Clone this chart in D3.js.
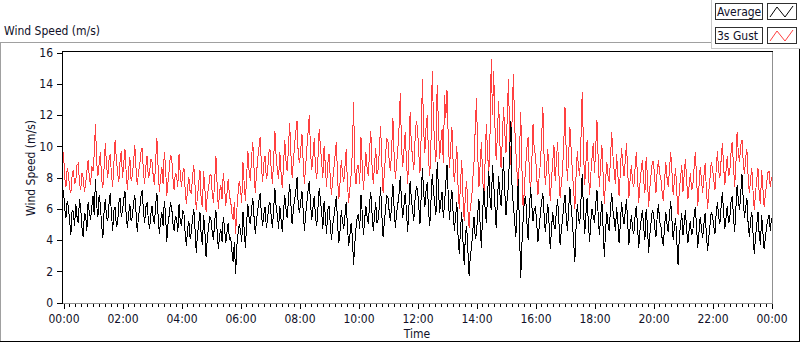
<!DOCTYPE html>
<html>
<head>
<meta charset="utf-8">
<script src="https://cdn.jsdelivr.net/npm/d3@7"></script>
<style>
  body { margin: 0; background: #fff; }
  svg text { font-family: "DejaVu Sans Condensed", "Liberation Sans", sans-serif; font-size: 12px; fill: #101028; }
</style>
</head>
<body>
<div id="main_plot"></div>
<script>
// samples every 150 s (2.5 min) starting at 00:00, one row per hour
startTime = new Date(2020, 0, 1, 0, 0);
stepSeconds = 150;

average = [
  7.2, 6.0, 5.4, 6.5, 6.1, 5.2, 4.3, 5.9, 5.8, 4.9, 6.3, 5.5, 5.1, 6.6, 6.0, 4.8, 4.2, 5.7, 5.6, 4.6, 6.4, 5.8, 5.3, 6.1,
  6.8, 5.6, 7.9, 6.2, 5.5, 6.9, 6.2, 5.0, 4.1, 5.8, 6.6, 5.4, 5.2, 6.3, 7.0, 5.7, 4.6, 5.9, 6.1, 4.9, 5.0, 6.4, 6.7, 5.5,
  5.9, 6.6, 7.1, 5.6, 4.8, 5.7, 6.3, 5.2, 5.5, 6.4, 6.9, 5.8, 4.5, 5.5, 6.0, 6.8, 7.2, 5.9, 5.1, 6.1, 6.4, 5.3, 4.7, 5.6,
  6.2, 5.4, 5.0, 6.3, 7.0, 5.5, 4.4, 5.2, 5.8, 4.9, 6.5, 5.7, 3.9, 5.0, 5.6, 6.4, 6.1, 5.1, 4.6, 5.5, 5.4, 4.5, 6.3, 5.2,
  4.9, 5.9, 5.7, 4.4, 3.6, 4.8, 5.2, 4.1, 4.5, 5.4, 6.0, 4.7, 3.2, 4.4, 5.0, 5.8, 4.3, 3.7, 5.6, 4.6, 2.9, 4.1, 4.8, 5.5,
  5.3, 4.5, 4.0, 5.2, 5.9, 4.6, 3.4, 4.3, 4.7, 3.9, 5.5, 4.8, 3.8, 4.5, 5.1, 4.0, 4.2, 3.3, 2.6, 3.9, 1.8, 3.6, 4.4, 5.0,
  4.6, 3.9, 5.8, 4.7, 3.5, 5.1, 6.3, 5.4, 5.0, 6.0, 6.7, 5.5, 4.4, 5.2, 5.9, 6.5, 7.0, 5.6, 4.9, 5.7, 6.1, 4.8, 5.3, 6.2,
  6.4, 5.5, 4.8, 6.0, 7.3, 6.1, 5.6, 4.7, 6.2, 5.3, 4.5, 5.8, 6.9, 6.0, 5.4, 6.6, 7.6, 6.3, 5.0, 5.9, 6.6, 7.1, 8.0, 6.2,
  5.7, 6.5, 7.1, 5.9, 4.6, 5.6, 6.4, 7.2, 7.8, 6.3, 5.3, 6.1, 6.8, 5.5, 4.9, 6.0, 7.3, 6.6, 5.8, 4.7, 6.5, 5.6, 4.4, 5.9,
  6.2, 5.1, 4.0, 4.9, 5.5, 6.2, 6.8, 5.0, 3.8, 4.6, 5.9, 5.2, 4.7, 5.6, 6.4, 4.9, 3.6, 4.3, 5.1, 4.2, 2.4, 3.8, 4.8, 5.5,
  5.6, 4.7, 6.9, 5.8, 4.3, 5.3, 6.2, 5.5, 5.0, 6.3, 7.1, 5.7, 4.6, 5.5, 6.4, 5.1, 5.3, 6.2, 7.4, 5.6, 4.2, 5.1, 6.0, 6.8,
  6.7, 5.8, 5.2, 6.4, 7.6, 6.0, 4.8, 5.7, 6.3, 7.0, 8.1, 6.5, 5.4, 6.2, 7.0, 5.9, 4.5, 6.1, 7.8, 6.6, 5.9, 5.2, 6.6, 7.4,
  7.3, 6.2, 5.0, 6.8, 8.6, 7.0, 6.1, 7.2, 7.7, 5.8, 4.9, 6.6, 8.2, 7.1, 6.4, 5.6, 9.0, 7.4, 5.7, 6.5, 7.1, 5.4, 6.3, 7.6,
  8.8, 6.9, 5.3, 6.4, 7.2, 5.7, 4.6, 5.5, 6.4, 4.2, 3.1, 4.7, 5.8, 3.9, 2.4, 4.4, 4.9, 3.3, 1.7, 3.0, 3.6, 4.6, 5.5, 4.1,
  4.4, 5.7, 6.6, 4.9, 3.5, 5.8, 7.3, 6.0, 5.1, 6.9, 8.4, 6.7, 5.9, 8.8, 7.6, 6.2, 4.8, 6.4, 8.1, 7.0, 6.2, 7.5, 9.3, 7.1,
  5.6, 6.7, 7.5, 9.8, 11.6, 7.0, 6.3, 5.2, 4.2, 6.0, 7.9, 4.5, 1.6, 3.8, 5.4, 6.6, 6.8, 5.1, 4.0, 5.9, 7.4, 6.2, 5.2, 6.0,
  6.1, 5.0, 3.9, 4.8, 5.7, 6.5, 7.0, 5.6, 4.5, 5.4, 6.3, 5.1, 3.4, 4.7, 5.8, 5.0, 4.7, 5.9, 6.6, 5.2, 3.7, 4.6, 5.3, 6.2,
  6.9, 5.5, 4.6, 6.0, 7.4, 6.1, 5.2, 3.9, 2.6, 4.8, 6.3, 5.4, 5.0, 6.6, 8.2, 6.0, 4.4, 5.6, 6.7, 5.1, 3.9, 5.2, 6.0, 5.5,
  5.1, 6.3, 7.2, 5.6, 4.3, 5.5, 6.5, 4.8, 2.9, 4.6, 5.8, 5.0, 4.6, 6.0, 7.0, 5.9, 5.3, 4.6, 6.1, 5.2, 3.8, 5.0, 6.4, 5.6,
  5.0, 5.8, 6.6, 5.1, 3.7, 4.8, 5.6, 4.7, 4.4, 5.5, 6.2, 4.9, 3.5, 4.6, 5.3, 5.9, 4.8, 4.0, 6.0, 5.0, 3.2, 4.3, 5.1, 5.9,
  5.7, 4.8, 4.2, 5.5, 6.3, 5.2, 4.9, 4.1, 3.6, 4.9, 5.8, 5.0, 4.5, 5.6, 6.5, 5.3, 4.0, 4.8, 5.4, 3.9, 2.4, 4.2, 5.0, 5.7,
  4.3, 5.1, 5.9, 4.6, 3.8, 4.7, 5.2, 4.3, 4.6, 5.5, 6.1, 4.9, 3.5, 4.5, 5.5, 4.8, 4.1, 5.0, 5.7, 4.4, 3.3, 4.2, 5.0, 5.8,
  5.6, 4.9, 4.4, 5.7, 6.4, 5.5, 5.0, 6.1, 7.1, 5.8, 4.7, 5.4, 6.2, 5.1, 5.3, 6.4, 6.8, 5.6, 4.5, 6.0, 7.5, 6.6, 5.9, 7.0,
  8.2, 6.6, 5.4, 6.1, 6.7, 5.0, 4.2, 5.3, 5.8, 4.4, 3.1, 4.2, 5.0, 5.8, 4.3, 3.7, 5.6, 4.5, 3.4, 4.1, 4.9, 5.3, 5.6, 4.6,
  5.4
];

gust = [
  9.6, 8.0, 7.4, 8.6, 8.2, 7.3, 7.0, 8.1, 8.5, 7.6, 7.8, 8.8, 8.9, 7.7, 7.2, 8.3, 8.0, 7.1, 7.6, 8.4, 9.1, 8.0, 7.5, 8.7,
  8.4, 9.5, 11.4, 9.0, 8.1, 8.9, 9.6, 7.9, 7.3, 8.6, 10.2, 8.8, 8.0, 9.1, 9.5, 8.2, 7.4, 8.9, 10.4, 9.2, 8.3, 7.7, 9.0, 9.7,
  8.0, 8.9, 9.8, 8.3, 7.2, 8.5, 9.3, 7.8, 8.1, 9.0, 10.1, 8.6, 7.5, 8.3, 8.8, 9.6, 9.9, 8.4, 7.6, 8.7, 9.4, 8.0, 8.2, 9.2,
  9.0, 8.1, 7.5, 9.1, 10.5, 8.6, 7.1, 8.0, 8.7, 7.6, 9.6, 8.8, 6.8, 7.7, 8.5, 9.4, 9.3, 8.0, 7.2, 8.3, 8.1, 7.4, 9.5, 8.2,
  7.4, 8.3, 8.6, 7.2, 6.3, 7.4, 8.0, 7.1, 7.0, 8.1, 8.8, 7.5, 5.9, 6.8, 7.6, 8.5, 6.6, 6.1, 8.4, 7.3, 5.8, 6.9, 7.3, 8.1,
  8.2, 7.0, 6.4, 7.8, 9.4, 7.5, 6.0, 7.1, 7.5, 6.6, 8.3, 7.4, 6.2, 7.0, 7.9, 6.8, 6.5, 5.7, 5.3, 6.4, 4.4, 5.9, 7.0, 7.8,
  7.2, 6.4, 9.0, 7.6, 6.5, 8.1, 9.7, 8.4, 7.8, 9.3, 10.3, 8.6, 7.0, 8.2, 9.2, 9.9, 10.6, 8.8, 7.7, 8.9, 9.4, 7.9, 8.3, 9.6,
  9.8, 8.5, 7.6, 9.2, 11.0, 9.3, 8.5, 7.9, 9.6, 8.3, 7.3, 8.8, 10.4, 9.1, 8.4, 9.9, 11.5, 9.5, 8.0, 9.0, 10.1, 10.9, 11.6, 9.4,
  8.9, 9.8, 10.8, 9.0, 7.6, 8.7, 9.9, 10.9, 12.0, 9.6, 8.5, 9.4, 10.5, 8.6, 7.9, 9.2, 11.1, 10.0, 9.0, 8.0, 10.0, 8.8, 7.4, 8.9,
  9.5, 8.0, 6.9, 7.8, 8.6, 9.5, 10.3, 7.9, 6.6, 7.7, 9.1, 8.3, 7.7, 8.7, 9.8, 7.6, 6.4, 7.3, 8.2, 9.6, 12.8, 8.4, 7.6, 8.8,
  8.8, 7.6, 10.6, 8.9, 7.2, 8.4, 9.6, 8.6, 8.1, 9.7, 11.0, 8.8, 7.6, 8.7, 9.9, 8.2, 8.5, 9.8, 11.3, 8.9, 7.0, 8.3, 9.4, 10.5,
  10.3, 9.0, 8.4, 9.9, 11.8, 9.4, 7.9, 8.9, 9.8, 11.2, 13.4, 9.9, 8.7, 9.8, 10.9, 9.1, 7.6, 9.5, 12.2, 10.1, 9.3, 8.5, 10.4, 11.6,
  11.2, 9.6, 8.3, 10.7, 14.3, 11.0, 9.6, 11.3, 12.0, 9.1, 8.1, 10.4, 14.8, 11.7, 10.0, 9.0, 13.9, 11.5, 9.2, 10.3, 11.1, 8.9, 13.3, 11.8,
  13.6, 10.6, 8.6, 9.9, 11.2, 8.9, 7.7, 8.8, 10.0, 7.4, 6.0, 7.6, 9.1, 6.8, 5.2, 7.0, 7.8, 5.9, 4.8, 6.2, 6.5, 7.9, 9.0, 11.2,
  13.1, 9.5, 7.4, 8.9, 10.3, 8.0, 6.6, 9.0, 11.4, 9.6, 8.2, 10.8, 15.6, 12.0, 14.8, 11.3, 9.1, 10.7, 12.9, 10.2, 8.6, 10.4, 12.5, 10.9,
  9.6, 11.8, 14.3, 10.5, 8.8, 11.9, 14.6, 11.4, 9.7, 8.3, 7.2, 9.6, 12.2, 8.5, 5.8, 7.4, 8.7, 9.9, 10.6, 8.4, 7.0, 9.0, 11.4, 9.7,
  9.5, 8.0, 6.9, 8.1, 8.9, 10.6, 12.5, 9.3, 7.5, 8.6, 9.8, 8.2, 6.5, 7.8, 9.0, 10.1, 7.8, 9.1, 10.3, 8.3, 6.7, 7.6, 8.4, 10.2,
  12.5, 9.6, 7.8, 9.5, 11.2, 9.8, 8.4, 7.2, 6.0, 8.1, 9.7, 8.6, 8.1, 10.5, 13.5, 10.0, 7.5, 8.9, 10.4, 8.5, 6.9, 8.2, 9.3, 10.2,
  8.3, 9.9, 11.7, 9.1, 7.4, 8.8, 10.1, 8.2, 6.3, 7.8, 9.0, 8.1, 7.7, 9.2, 10.9, 9.4, 8.4, 7.6, 9.5, 8.2, 6.8, 8.3, 9.9, 8.9,
  8.1, 9.0, 10.2, 8.4, 6.7, 7.9, 8.8, 7.7, 7.4, 8.6, 9.6, 8.0, 6.4, 7.6, 8.5, 9.1, 7.8, 7.0, 9.3, 8.2, 6.1, 7.3, 8.2, 9.0,
  9.0, 7.9, 7.0, 8.4, 9.1, 8.3, 7.9, 7.1, 6.5, 7.8, 9.0, 8.0, 7.4, 8.5, 9.6, 8.4, 6.9, 7.8, 8.6, 7.0, 5.6, 7.2, 8.0, 8.8,
  7.1, 8.2, 9.2, 7.8, 6.6, 7.5, 8.3, 7.2, 7.5, 8.6, 9.6, 8.1, 6.2, 7.4, 8.7, 7.9, 7.0, 8.1, 8.9, 7.3, 6.0, 7.1, 8.0, 9.0,
  8.6, 7.9, 7.2, 8.5, 9.7, 8.4, 8.0, 9.1, 10.2, 8.8, 7.5, 8.4, 9.4, 8.1, 8.3, 9.5, 10.3, 8.9, 7.4, 8.8, 10.9, 9.6, 9.0, 10.1,
  10.4, 9.0, 8.2, 9.3, 9.8, 8.0, 7.0, 7.9, 8.6, 7.1, 5.9, 7.0, 7.9, 8.6, 6.9, 6.3, 8.5, 7.3, 6.1, 6.9, 7.6, 8.3, 8.4, 7.4,
  8.0
];

yTicks = [0, 2, 4, 6, 8, 10, 12, 14, 16];
legendItems = [
  { name: "Average", color: "#000000" },
  { name: "3s Gust", color: "#ff4040" }
];

width = 800;
height = 342;

function makePlot() {
  let svg = d3.select("#main_plot").append("svg")
    .attr("width", width)
    .attr("height", height);

  let endTime = d3.timeDay.offset(startTime, 1);

  let x = d3.scaleTime()
    .domain([startTime, endTime])
    .range([63.5, 771.5]);

  let y = d3.scaleLinear()
    .domain([0, 16])
    .range([302.5, 52.5]);

  let toSeries = (arr) => arr.map((v, i) => ({
    date: d3.timeSecond.offset(startTime, i * stepSeconds),
    value: v
  }));

  // outer panel edges
  let edge = (x1, y1, x2, y2, c) => svg.append("line")
    .attr("x1", x1).attr("y1", y1).attr("x2", x2).attr("y2", y2)
    .attr("stroke", c).attr("stroke-width", 1)
    .style("shape-rendering", "crispEdges");

  edge(0, 42.5, 711, 42.5, "#a0a0a0");
  edge(0.5, 42, 0.5, 342, "#a0a0a0");
  edge(0, 341.5, 800, 341.5, "#000");
  edge(799.5, 49, 799.5, 342, "#000");
  edge(711.5, 0, 711.5, 49, "#c8c8c8");
  edge(711, 48.5, 800, 48.5, "#c8c8c8");

  svg.append("text")
    .attr("x", 4)
    .attr("y", 35)
    .text("Wind Speed (m/s)");

  // legend
  let legend = svg.selectAll(".legend")
    .data(legendItems)
    .enter().append("g")
    .attr("class", "legend")
    .attr("transform", (d, i) => "translate(0," + (i * 24) + ")");

  legend.append("rect")
    .attr("x", 715.5).attr("y", 3.5)
    .attr("width", 47).attr("height", 16)
    .attr("fill", "#fff").attr("stroke", "#303030");

  legend.append("text")
    .attr("x", 717).attr("y", 16)
    .text(d => d.name);

  legend.append("rect")
    .attr("x", 767.5).attr("y", 3.5)
    .attr("width", 29).attr("height", 16)
    .attr("fill", "#fff").attr("stroke", "#303030");

  legend.append("polyline")
    .attr("points", "770,17 777,7 785,17 793,6")
    .attr("fill", "none")
    .attr("stroke", d => d.color)
    .attr("stroke-width", 1);

  // plot area frame
  svg.append("rect")
    .attr("x", 62.5).attr("y", 51.5)
    .attr("width", 710).attr("height", 252)
    .attr("fill", "#fff");
  edge(62.5, 51, 62.5, 304, "#000");
  edge(62, 51.5, 773, 51.5, "#000");
  edge(772.5, 52, 772.5, 304, "#909090");
  edge(63, 303.5, 773, 303.5, "#909090");

  svg.append("clipPath").attr("id", "clip")
    .append("rect")
    .attr("x", 63).attr("y", 52)
    .attr("width", 709).attr("height", 251);

  let line = d3.line()
    .x(d => x(d.date))
    .y(d => y(d.value));

  let plots = svg.append("g").attr("clip-path", "url(#clip)");

  // aliased 1px lines, like the original instrument plot
  plots.append("path")
    .datum(toSeries(gust))
    .attr("fill", "none")
    .attr("stroke", legendItems[1].color)
    .attr("stroke-width", 1)
    .style("shape-rendering", "crispEdges")
    .attr("d", line);

  plots.append("path")
    .datum(toSeries(average))
    .attr("fill", "none")
    .attr("stroke", legendItems[0].color)
    .attr("stroke-width", 1)
    .style("shape-rendering", "crispEdges")
    .attr("d", line);

  // y axis
  let yAxis = d3.axisLeft(y)
    .tickValues(yTicks)
    .tickSize(5)
    .tickPadding(4)
    .tickSizeOuter(0);

  let yg = svg.append("g")
    .attr("transform", "translate(62,0)")
    .call(yAxis);
  yg.select(".domain").remove();
  yg.selectAll("line").attr("stroke", "#000").style("shape-rendering", "crispEdges");
  yg.selectAll("text")
    .style("font-family", null).style("font-size", "12px")
    .attr("fill", null);

  // x axis: minor ticks every 12 min, major every 2 h
  let minor = d3.timeMinute.every(12).range(startTime, d3.timeMinute.offset(endTime, 1));
  let xMinor = d3.axisBottom(x)
    .tickValues(minor)
    .tickSize(3)
    .tickFormat("")
    .tickSizeOuter(0);
  let xmg = svg.append("g")
    .attr("transform", "translate(0,304)")
    .call(xMinor);
  xmg.select(".domain").remove();
  xmg.selectAll("line").attr("stroke", "#000").style("shape-rendering", "crispEdges");

  let major = d3.timeHour.every(2).range(startTime, d3.timeMinute.offset(endTime, 1));
  let xAxis = d3.axisBottom(x)
    .tickValues(major)
    .tickSize(5)
    .tickPadding(5)
    .tickFormat(d3.timeFormat("%H:%M"))
    .tickSizeOuter(0);
  let xg = svg.append("g")
    .attr("transform", "translate(0,304)")
    .call(xAxis);
  xg.select(".domain").remove();
  xg.selectAll("line").attr("stroke", "#000").style("shape-rendering", "crispEdges");
  xg.selectAll("text")
    .style("font-family", null).style("font-size", "12px")
    .attr("fill", null);

  svg.append("text")
    .attr("x", 417)
    .attr("y", 338)
    .attr("text-anchor", "middle")
    .text("Time");

  svg.append("text")
    .attr("transform", "translate(35,168) rotate(-90)")
    .attr("text-anchor", "middle")
    .text("Wind Speed (m/s)");
}

makePlot();
</script>
</body>
</html>
